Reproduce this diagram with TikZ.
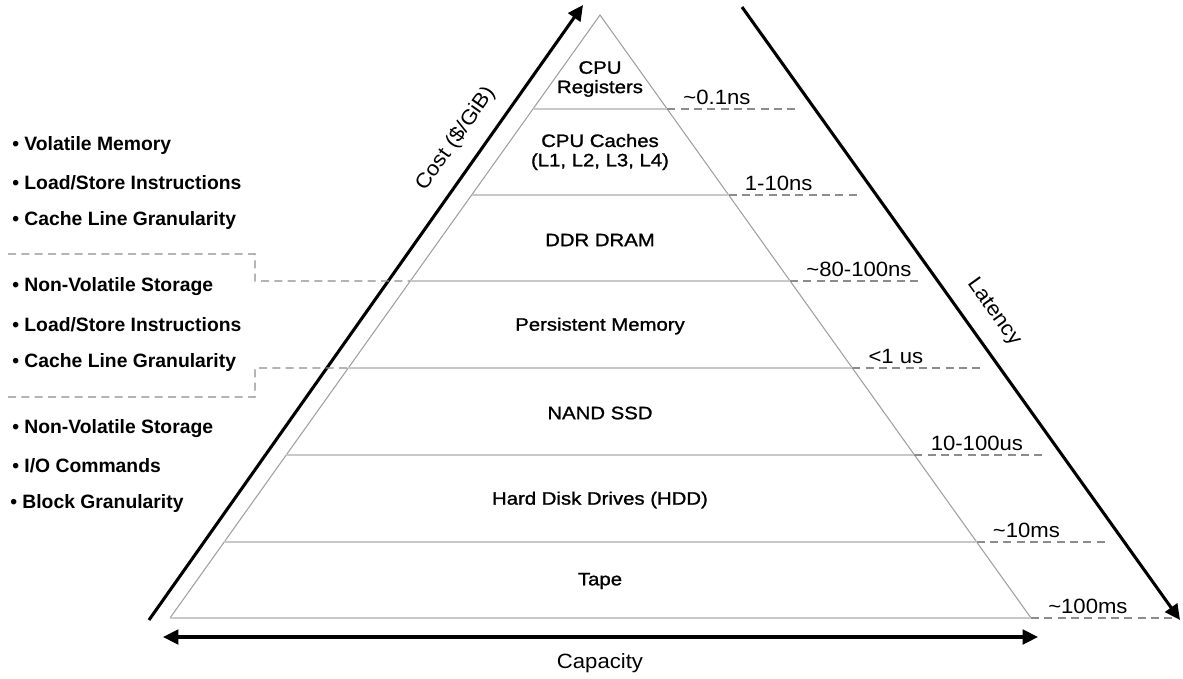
\documentclass[tikz,border=0pt]{standalone}
\usepackage{fontspec}
\setmainfont{Liberation Sans}
\newfontfamily\layerfont[FakeStretch=1.13,FakeBold=1.2]{Liberation Sans}
\newfontfamily\widesans[FakeStretch=1.07]{Liberation Sans}
\usetikzlibrary{arrows.meta,calc}

\definecolor{edgegray}{HTML}{A0A0A0}
\definecolor{levelgray}{HTML}{C8C8C8}
\definecolor{dashgray}{HTML}{8C8C8C}

\tikzset{
  edge/.style={draw=edgegray, line width=0.8pt},
  level/.style={draw=levelgray, line width=0.8pt},
  sep/.style={draw=dashgray, line width=0.8pt, dash pattern=on 6pt off 4pt},
  bigarrow/.style={line width=2.3pt, -{Triangle[length=11.5pt,width=11pt]}},
  layer/.style={font=\layerfont\fontsize{13.5pt}{14.5pt}\selectfont, align=center, inner sep=0pt},
  lat/.style={font=\widesans\fontsize{15.5pt}{17pt}\selectfont, anchor=base west, inner sep=0pt},
  axis/.style={font=\widesans\fontsize{15.5pt}{17pt}\selectfont, inner sep=0pt},
  item/.style={font=\bfseries\fontsize{14.5pt}{16pt}\selectfont, anchor=west, inner sep=0pt},
}

\begin{document}
\begin{tikzpicture}[x=0.75pt, y=-0.75pt]
\useasboundingbox (0,0) rectangle (1183,679);

% pyramid outline
\coordinate (apex) at (600,15);
\coordinate (bl) at (170,618);
\coordinate (br) at (1031,618);
\draw[edge] (bl) -- (apex) -- (br);
\draw[level] (bl) -- (br);

% level boundaries
\foreach \i/\t in {1/0.15589, 2/0.29851, 3/0.44113, 4/0.58541, 5/0.72968, 6/0.87396} {
  \coordinate (L\i) at ($(apex)!\t!(bl)$);
  \coordinate (R\i) at ($(apex)!\t!(br)$);
  \draw[level] (L\i) -- (R\i);
}

% layer labels
\node[layer] (reg)  at (600,79)  {CPU\\Registers};
\node[layer] (cache) at (600,152) {CPU Caches\\(L1, L2, L3, L4)};
\node[layer] (dram) at (600,240) {DDR DRAM};
\node[layer] (pmem) at (600,326) {Persistent Memory};
\node[layer] (ssd)  at (600,413) {NAND SSD};
\node[layer] (hdd)  at (600,500) {Hard Disk Drives (HDD)};
\node[layer] (tape) at (600,581) {Tape};

% latency marks
\foreach \i/\txt in {1/{\textasciitilde0.1ns}, 2/{1-10ns}, 3/{\textasciitilde80-100ns}, 4/{<1 us}, 5/{10-100us}, 6/{\textasciitilde10ms}} {
  \coordinate (E\i) at ($(R\i)+(130,0)$);
  \draw[sep] (R\i) -- (E\i);
  \node[lat] (t\i) at ($(R\i)+(16,-5)$) {\txt};
}
\coordinate (E7) at (1176,618);
\draw[sep] (br) -- (E7);
\node[lat] (t7) at ($(br)+(17,-5)$) {\textasciitilde100ms};

% axes
\coordinate (costA) at (149,620);
\coordinate (costB) at (583,5);
\draw[bigarrow] (costA) -- (costB);
\node[axis, rotate=54.8] (cost) at (456,139) {Cost (\$/GiB)};

\coordinate (latA) at (742,7);
\coordinate (latB) at (1180,620);
\draw[bigarrow] (latA) -- (latB);
\node[axis, rotate=-54.45] (latency) at (994,312) {Latency};

\coordinate (capA) at (163,637);
\coordinate (capB) at (1038,637);
\draw[bigarrow, {Triangle[length=11.5pt,width=11pt]}-{Triangle[length=11.5pt,width=11pt]}] (capA) -- (capB);
\node[axis] (capacity) at (600,663) {Capacity};

% property groups
\node[item] (a1) at (12,145) {\textbullet\ Volatile Memory};
\node[item] (a2) at (12,183) {\textbullet\ Load/Store Instructions};
\node[item] (a3) at (12,220) {\textbullet\ Cache Line Granularity};
\node[item] (b1) at (12,287) {\textbullet\ Non-Volatile Storage};
\node[item] (b2) at (12,325) {\textbullet\ Load/Store Instructions};
\node[item] (b3) at (12,362) {\textbullet\ Cache Line Granularity};
\node[item] (c1) at (12,429) {\textbullet\ Non-Volatile Storage};
\node[item] (c2) at (12,466) {\textbullet\ I/O Commands};
\node[item] (c3) at (10,503) {\textbullet\ Block Granularity};

% group separators
\draw[sep] (8,254) -- (255,254) -- (255,281) -- (L3);
\draw[sep] (8,397) -- (255,397) -- (255,368) -- (L4);
\end{tikzpicture}
\end{document}
